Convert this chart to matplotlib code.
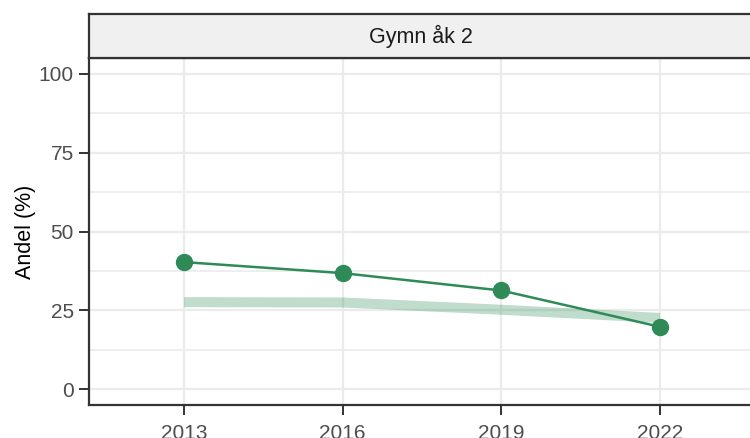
import numpy as np
import matplotlib.pyplot as plt

plt.rcParams['font.family'] = ['Liberation Sans', 'DejaVu Sans']

years = ['2013', '2016', '2019', '2022']
andel = [40.3, 36.8, 31.3, 19.8]
andel_ref = [27.6, 27.5, 25.2, 22.6]
panel_title = 'Gymn åk 2'

W, H = 750, 438
fig = plt.figure(figsize=(W / 100, H / 100), dpi=100)

# panel: left 89px, bottom at 405px, top at 58px, right edge just outside the image
ax = fig.add_axes([89 / W, (H - 405) / H, 666 / W, 347 / H])
strip = fig.add_axes([89 / W, (H - 58) / H, 666 / W, 44 / H])

x = np.arange(len(years))
ax.plot(x, andel_ref, color='#2e8b57', alpha=0.3, lw=7.2, solid_capstyle='butt', zorder=2)
ax.plot(x, andel, color='#2e8b57', lw=1.8, zorder=3)
ax.plot(x, andel, 'o', color='#2e8b57', ms=11.5, zorder=4)

ax.set_xlim(-0.6, len(years) - 1 + 0.6)
ax.set_ylim(-5, 105)
ax.set_xticks(x)
ax.set_xticklabels(years)
ax.set_yticks([0, 25, 50, 75, 100])
ax.set_yticks([12.5, 37.5, 62.5, 87.5], minor=True)
ax.grid(True, which='major', color='#ebebeb', lw=1.6, zorder=0)
ax.grid(True, which='minor', axis='y', color='#ebebeb', lw=1.2, zorder=0)
ax.set_axisbelow(True)
ax.tick_params(axis='both', which='major', labelsize=15, labelcolor='#4d4d4d',
               color='#333333', length=7, width=1.4)
ax.tick_params(axis='x', pad=7)
ax.tick_params(axis='y', pad=4)
ax.tick_params(axis='y', which='minor', length=0)
for s in ax.spines.values():
    s.set_color('#333333')
    s.set_linewidth(1.6)
ax.set_ylabel('Andel (%)', fontsize=15.5, color='black', labelpad=2)

strip.set_facecolor('#f0f0f0')
strip.set_xticks([])
strip.set_yticks([])
for s in strip.spines.values():
    s.set_color('#333333')
    s.set_linewidth(1.6)
strip.text((421 - 89) / 666, 0.5, panel_title, transform=strip.transAxes,
           ha='center', va='center', fontsize=15.5, color='#1a1a1a')

fig.savefig('out.png', dpi=100)
